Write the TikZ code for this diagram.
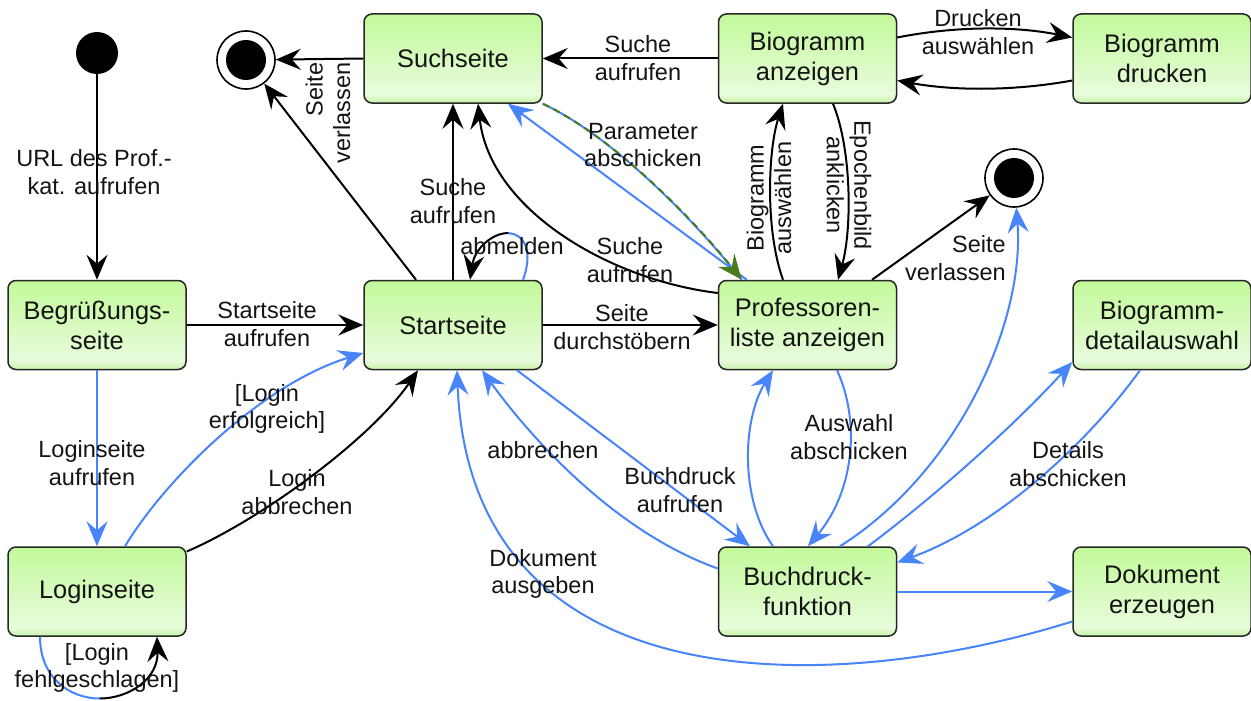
\documentclass[tikz,border=0pt]{standalone}
\usepackage{fontspec}
\setmainfont{Liberation Sans}
\usetikzlibrary{arrows.meta,calc}

\definecolor{flowblue}{HTML}{4884FA}
\definecolor{paramgreen}{HTML}{4A7D1E}
\definecolor{stTop}{HTML}{C2F99A}
\definecolor{stLight}{HTML}{E8FCDC}
\definecolor{stBot}{HTML}{C6F2A8}
\pgfdeclareverticalshading{statebox}{100bp}{color(0bp)=(stBot); color(25bp)=(stBot); color(30bp)=(stLight); color(75bp)=(stTop); color(100bp)=(stTop)}

\newcommand\stfont{\fontsize{25.4}{30}\selectfont}
\newcommand\lbfont{\fontsize{23.5}{27.5}\selectfont}

\tikzset{
  state/.style={rectangle, rounded corners=8pt, minimum width=178pt, minimum height=89pt,
    inner sep=0pt, draw=black!85, line width=1.5pt, shade, shading=statebox,
    align=center, font=\stfont, text=black!92},
  initial/.style={circle, fill=black, minimum size=42pt, inner sep=0pt},
  final/.style={circle, draw=black, fill=white, line width=1.6pt, minimum size=58pt, inner sep=0pt},
  findot/.style={circle, fill=black, minimum size=40pt, inner sep=0pt},
  lbl/.style={align=center, font=\lbfont, inner sep=0pt, text=black!92},
  tip/.style={-{Stealth[length=25pt,width=21pt,inset=9pt]}},
  blk/.style={line width=2pt, draw=black, tip},
  blu/.style={line width=2pt, draw=flowblue, tip},
  bluplain/.style={line width=2pt, draw=flowblue},
}

\begin{document}
\begin{tikzpicture}[x=1pt,y=-1pt]
\useasboundingbox (0,0) rectangle (1251,701);
\fill[white] (0,0) rectangle (1251,701);

% pseudo states
\node[initial] (init) at (97,53) {};
\node[final] (fin1) at (246,60) {};
\node[findot] (fin1dot) at (fin1) {};
\node[final] (fin2) at (1014,178) {};
\node[findot] (fin2dot) at (fin2) {};

% states
\node[state] (such)   at (453,58.5)  {Suchseite};
\node[state] (bioanz) at (807.5,58.5){Biogramm\\anzeigen};
\node[state] (biodr)  at (1162,58.5) {Biogramm\\drucken};
\node[state] (begr)   at (97,325)    {Begrüßungs-\\seite};
\node[state] (start)  at (453,325)   {Startseite};
\node[state] (prof)   at (807.5,325) {Professoren-\\liste anzeigen};
\node[state] (biodet) at (1162,325)  {Biogramm-\\detailauswahl};
\node[state] (login)  at (97,591.5)  {Loginseite};
\node[state] (buch)   at (807.5,591.5){Buchdruck-\\funktion};
\node[state] (dok)    at (1162,591.5){Dokument\\erzeugen};

% split points of the two-coloured self loops
\coordinate (loginmid) at (99.6,698.5);
\coordinate (startmid) at (508.5,233.1);

% transitions: entry and login
\draw[blk] (init.south) -- (begr.north);
\draw[blk] (begr.east) -- (start.west);
\draw[blu] (begr.south) -- (login.north);
\draw[blu] ($(login.north)+(28,0)$) .. controls (165,480) and (260,385) .. ($(start.west)+(0,28)$);
\draw[blk] ($(login.east)+(0,-40)$) .. controls (260,520) and (370,440) .. ($(start.south)+(-35,0)$);
\draw[bluplain] ($(login.south)+(-57,0)$) .. controls (40,678) and (70,698.5) .. (loginmid);
\draw[blk] (loginmid) .. controls (129.25,698.5) and (158.5,678.5) .. ($(login.south)+(60,0)$);

% transitions around the start page
\draw[blk] (start.north) -- (such.south);
\draw[blk] ($(start.north)+(-37,0)$) -- (fin1);
\draw[blk] (such.west) -- (fin1);
\draw[bluplain] ($(start.north)+(70,0)$) .. controls (534,250) and (523.25,233.75) .. (startmid);
\draw[blk] (startmid) .. controls (493.75,232.5) and (475,247.5) .. ($(start.north)+(17,0)$);
\draw[blk] (start.east) -- (prof.west);

% search page and professor list
\draw[blk] ($(prof.west)+(0,-32)$) .. controls (610,280) and (490,210) .. ($(such.south)+(25,0)$);
\draw[blu] ($(prof.north west)+(29,0)$) -- ($(such.south)+(55,0)$);
\draw[bluplain] (such.south east) .. controls (610,135) and (690,215) .. ($(prof.north west)+(24,0)$);
\draw[line width=2pt, draw=paramgreen, dash pattern=on 7pt off 5pt, tip]
  (such.south east) .. controls (610,135) and (690,215) .. ($(prof.north west)+(24,0)$);
\draw[blk] (bioanz.west) -- (such.east);

% biogram
\draw[blk] ($(bioanz.east)+(0,-21)$) .. controls (955,26) and (1015,26) .. ($(biodr.west)+(0,-21)$);
\draw[blk] ($(biodr.west)+(0,22)$) .. controls (1015,91) and (955,91) .. ($(bioanz.east)+(0,22)$);
\draw[blk] ($(prof.north)+(-24.5,0)$) .. controls (765,230) and (768,150) .. ($(bioanz.south)+(-24.5,0)$);
\draw[blk] ($(bioanz.south)+(25.5,0)$) .. controls (852,150) and (852,230) .. ($(prof.north)+(30.5,0)$);
\draw[blk] ($(prof.north)+(64.5,0)$) -- (fin2);

% book printing
\draw[blu] ($(prof.south)+(29.5,0)$) .. controls (860,420) and (855,490) .. ($(buch.north)+(0.5,0)$);
\draw[blu] ($(buch.north)+(-34.5,0)$) .. controls (740,500) and (742,420) .. ($(prof.south)+(-34.5,0)$);
\draw[blu] ($(buch.north)+(32.5,0)$) .. controls (960,470) and (1025,320) .. (fin2);
\draw[blu] ($(buch.north)+(60.5,0)$) .. controls (930,500) and (1010,430) .. ($(biodet.west)+(0,37)$);
\draw[blu] ($(biodet.south)+(-22,0)$) .. controls (1090,440) and (1000,525) .. ($(buch.east)+(0,-29)$);
\draw[blu] (buch.east) -- (dok.west);
\draw[blu] ($(dok.west)+(0,30)$) .. controls (820,700) and (470,700) .. ($(start.south)+(4,0)$);
\draw[blu] ($(buch.west)+(0,-23)$) .. controls (610,530) and (525,430) .. ($(start.south)+(29,0)$);
\draw[blu] ($(start.south)+(64,0)$) -- ($(buch.north)+(-57.5,0)$);

% transition labels
\node[lbl] (lUrl)    at (94,172)  {URL des Prof.-\\kat. aufrufen};
\node[lbl] (lStart)  at (267,324) {Startseite\\aufrufen};
\node[lbl] (lLogin)  at (92,463)  {Loginseite\\aufrufen};
\node[lbl] (lOk)     at (267,409) {[Login\\erfolgreich]};
\node[lbl] (lAbbr)   at (297,492) {Login\\abbrechen};
\node[lbl] (lFail)   at (97,668)  {[Login\\fehlgeschlagen]};
\node[lbl] (lSuche1) at (453,201) {Suche\\aufrufen};
\node[lbl, rotate=90, align=right] (lLeave1) at (328,113) {Seite\\verlassen};
\node[lbl] (lAbm)    at (512,246) {abmelden};
\node[lbl] (lStoeb)  at (622,327) {Seite\\durchstöbern};
\node[lbl] (lSuche2) at (630,260) {Suche\\aufrufen};
\node[lbl] (lParam)  at (643,145) {Parameter\\abschicken};
\node[lbl] (lSuche3) at (638,58)  {Suche\\aufrufen};
\node[lbl] (lDruck)  at (978,32)  {Drucken\\auswählen};
\node[lbl, rotate=90]  (lBio)   at (769,198) {Biogramm\\auswählen};
\node[lbl, rotate=-90] (lEpoch) at (849,185) {Epochenbild\\anklicken};
\node[lbl, align=right, anchor=east] (lLeave2) at (1006,258) {Seite\\verlassen};
\node[lbl] (lAusw)   at (849,437) {Auswahl\\abschicken};
\node[lbl] (lDet)    at (1068,464) {Details\\abschicken};
\node[lbl] (lAbbr2)  at (543,450) {abbrechen};
\node[lbl] (lBuch)   at (680,490) {Buchdruck\\aufrufen};
\node[lbl] (lDok)    at (543,574) {Dokument\\ausgeben};
\end{tikzpicture}
\end{document}
